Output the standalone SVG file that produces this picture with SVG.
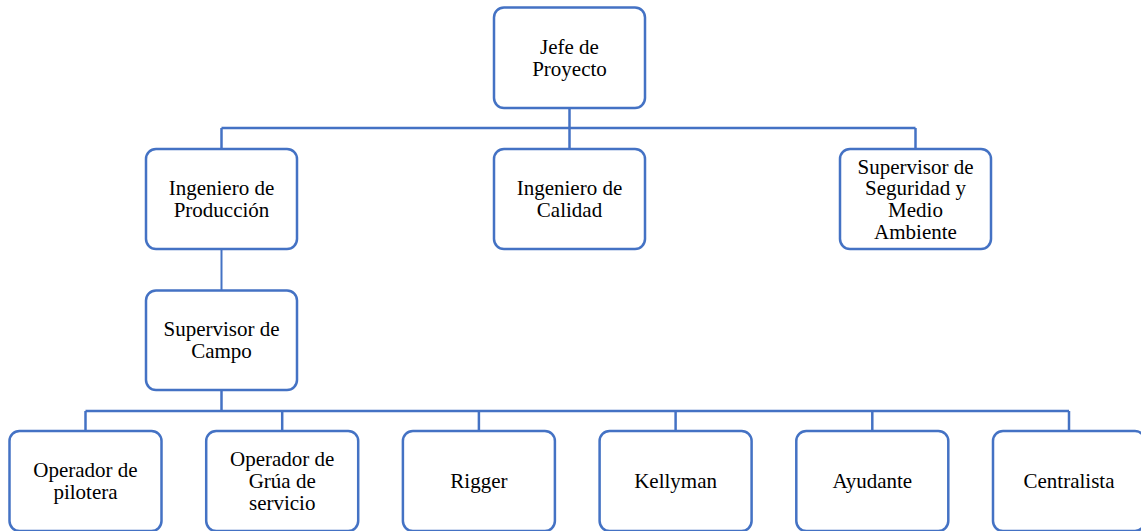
<svg xmlns="http://www.w3.org/2000/svg" width="1141" height="531" viewBox="0 0 1141 531">
<style>
.box{fill:#ffffff;stroke:#4472C4;stroke-width:2.5}
.lbl{font-family:'Liberation Serif','Times New Roman',Times,serif;font-size:21px;fill:#000000;text-anchor:middle}
.con{fill:none;stroke:#4472C4;stroke-width:2.5}
</style>
<rect width="1141" height="531" fill="#ffffff"/>
<g id="connectors">
<path class="con" d="M569.5,108 V149"/>
<path class="con" d="M221.5,128 H915.5"/>
<path class="con" d="M221.5,128 V149"/>
<path class="con" d="M915.5,128 V149"/>
<path class="con" style="stroke-width:2" d="M221.5,249 V290.5"/>
<path class="con" d="M221.5,390 V411"/>
<path class="con" d="M85.5,411 H1069"/>
<path class="con" d="M85.5,411 V431"/>
<path class="con" d="M282.2,411 V431"/>
<path class="con" d="M478.9,411 V431"/>
<path class="con" d="M675.6,411 V431"/>
<path class="con" d="M872.3,411 V431"/>
<path class="con" d="M1069,411 V431"/>
</g>
<g id="jefe">
<rect class="box" x="494" y="7.5" width="151" height="100.5" rx="10"/>
<text class="lbl" x="569.5" y="54">Jefe de</text>
<text class="lbl" x="569.5" y="75.6">Proyecto</text>
</g>
<g id="ing-produccion">
<rect class="box" x="146" y="149" width="151" height="100" rx="10"/>
<text class="lbl" x="221.5" y="195.2">Ingeniero de</text>
<text class="lbl" x="221.5" y="216.9">Producción</text>
</g>
<g id="ing-calidad">
<rect class="box" x="494" y="149" width="151" height="100" rx="10"/>
<text class="lbl" x="569.5" y="195.2">Ingeniero de</text>
<text class="lbl" x="569.5" y="216.9">Calidad</text>
</g>
<g id="sup-seguridad">
<rect class="box" x="840" y="149" width="151" height="100" rx="10"/>
<text class="lbl" x="915.5" y="173.5">Supervisor de</text>
<text class="lbl" x="915.5" y="195.2">Seguridad y</text>
<text class="lbl" x="915.5" y="216.9">Medio</text>
<text class="lbl" x="915.5" y="238.6">Ambiente</text>
</g>
<g id="sup-campo">
<rect class="box" x="146" y="290.5" width="151" height="99.5" rx="10"/>
<text class="lbl" x="221.5" y="336.4">Supervisor de</text>
<text class="lbl" x="221.5" y="358.1">Campo</text>
</g>
<g id="op-pilotera">
<rect class="box" x="9.5" y="431" width="152" height="100" rx="10"/>
<text class="lbl" x="85.5" y="477.2">Operador de</text>
<text class="lbl" x="85.5" y="498.9">pilotera</text>
</g>
<g id="op-grua">
<rect class="box" x="206.2" y="431" width="152" height="100" rx="10"/>
<text class="lbl" x="282.2" y="466.3">Operador de</text>
<text class="lbl" x="282.2" y="488">Grúa de</text>
<text class="lbl" x="282.2" y="509.7">servicio</text>
</g>
<g id="rigger">
<rect class="box" x="402.9" y="431" width="152" height="100" rx="10"/>
<text class="lbl" x="478.9" y="488">Rigger</text>
</g>
<g id="kellyman">
<rect class="box" x="599.6" y="431" width="152" height="100" rx="10"/>
<text class="lbl" x="675.6" y="488">Kellyman</text>
</g>
<g id="ayudante">
<rect class="box" x="796.3" y="431" width="152" height="100" rx="10"/>
<text class="lbl" x="872.3" y="488">Ayudante</text>
</g>
<g id="centralista">
<rect class="box" x="993" y="431" width="152" height="100" rx="10"/>
<text class="lbl" x="1069" y="488">Centralista</text>
</g>
</svg>
